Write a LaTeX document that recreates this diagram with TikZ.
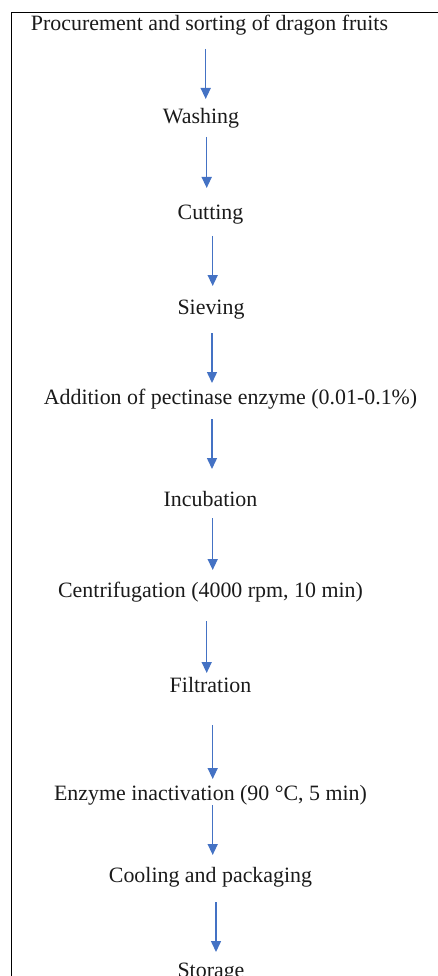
\documentclass[tikz,border=0pt]{standalone}
\usepackage{fontspec}
\setmainfont{Liberation Serif}
\usetikzlibrary{arrows.meta}
\definecolor{arrblue}{HTML}{4472C4}
\definecolor{txt}{HTML}{1A1A1A}
\tikzset{
  stepnode/.style={anchor=base, inner sep=0pt, text=txt, font=\fontsize{21.9}{26}\selectfont},
  flowarrow/.style={draw=arrblue, line width=1.5pt, -{Triangle[width=10pt,length=11pt]}},
  frameline/.style={draw=black, line width=1pt}
}
\begin{document}
\begin{tikzpicture}[x=1pt,y=1pt]
\useasboundingbox (0,0) rectangle (438,-976);
\coordinate (fbl) at (11,-980);
\coordinate (ftl) at (11,-12.5);
\coordinate (ftr) at (440,-12.5);
\draw[frameline] (fbl) -- (ftl) -- (ftr);

\node[stepnode] (s1) at (209.5,-31) {Procurement and sorting of dragon fruits};
\node[stepnode] (s2) at (201,-123.5) {Washing};
\node[stepnode] (s3) at (210.5,-219.5) {Cutting};
\node[stepnode] (s4) at (211,-314.5) {Sieving};
\node[stepnode] (s5) at (230.5,-404.5) {Addition of pectinase enzyme (0.01-0.1\%)};
\node[stepnode] (s6) at (210.5,-506.5) {Incubation};
\node[stepnode] (s7) at (210.5,-597.5) {Centrifugation (4000 rpm, 10 min)};
\node[stepnode] (s8) at (210.5,-692.5) {Filtration};
\node[stepnode] (s9) at (210.5,-800.5) {Enzyme inactivation (90 °C, 5 min)};
\node[stepnode] (s10) at (210.5,-882.5) {Cooling and packaging};
\node[stepnode] (s11) at (211,-977.5) {Storage};

\coordinate (a1s) at (205.7,-49);  \coordinate (a1e) at (205.7,-99);
\coordinate (a2s) at (206.7,-137); \coordinate (a2e) at (206.7,-188);
\coordinate (a3s) at (212.7,-236); \coordinate (a3e) at (212.7,-286);
\coordinate (a4s) at (212,-333);   \coordinate (a4e) at (212,-383);
\coordinate (a5s) at (212,-419);   \coordinate (a5e) at (212,-469);
\coordinate (a6s) at (212.7,-518); \coordinate (a6e) at (212.7,-570);
\coordinate (a7s) at (206.7,-621); \coordinate (a7e) at (206.7,-673);
\coordinate (a8s) at (212.7,-725); \coordinate (a8e) at (212.7,-779);
\coordinate (a9s) at (212.7,-805); \coordinate (a9e) at (212.7,-855);
\coordinate (a10s) at (216,-902);  \coordinate (a10e) at (216,-952);

\foreach \i in {1,...,10} {
  \draw[flowarrow] (a\i s) -- (a\i e);
}
\end{tikzpicture}
\end{document}
